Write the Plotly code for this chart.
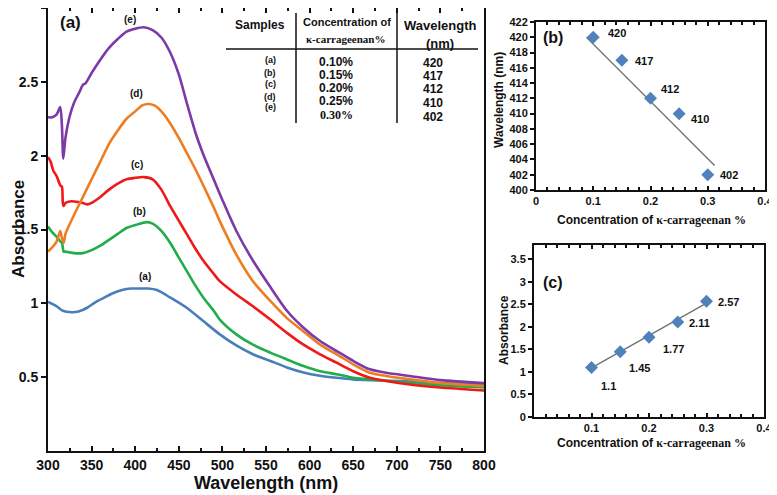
import plotly.graph_objects as go

# ---------------- data ----------------
# Panel (a) spectra (wavelength nm, absorbance)
wl_a = [300, 310, 317, 327, 335, 345, 355, 365, 375, 385, 395, 405, 415, 425, 440, 459, 478, 497, 516, 535, 555, 574, 593, 612, 631, 650, 669, 715, 750, 800]
abs_a = [1.01, 0.98, 0.95, 0.94, 0.945, 0.97, 1.01, 1.04, 1.07, 1.09, 1.10, 1.10, 1.10, 1.09, 1.04, 0.97, 0.88, 0.79, 0.715, 0.655, 0.61, 0.566, 0.532, 0.51, 0.496, 0.485, 0.48, 0.472, 0.46, 0.45]

wl_b = [300, 305, 310, 314, 316, 318, 320, 330, 340, 350, 360, 370, 380, 390, 400, 413, 420, 430, 440, 450, 459, 468, 478, 490, 497, 516, 535, 555, 574, 593, 612, 631, 650, 669, 715, 750, 800]
abs_b = [1.52, 1.48, 1.45, 1.42, 1.41, 1.35, 1.35, 1.34, 1.34, 1.36, 1.39, 1.43, 1.47, 1.51, 1.53, 1.55, 1.54, 1.49, 1.41, 1.31, 1.22, 1.13, 1.04, 0.95, 0.89, 0.79, 0.72, 0.666, 0.62, 0.575, 0.54, 0.52, 0.496, 0.485, 0.46, 0.445, 0.43]

wl_c = [300, 303, 306, 310, 314, 316, 317, 318, 320, 325, 330, 340, 345, 350, 360, 370, 380, 390, 400, 410, 420, 430, 440, 450, 459, 468, 478, 490, 497, 516, 535, 555, 574, 593, 612, 631, 650, 669, 688, 715, 750, 800]
abs_c = [1.99, 1.96, 1.90, 1.86, 1.80, 1.79, 1.68, 1.66, 1.68, 1.69, 1.69, 1.68, 1.67, 1.68, 1.72, 1.77, 1.81, 1.84, 1.85, 1.855, 1.84, 1.77, 1.66, 1.56, 1.47, 1.38, 1.29, 1.20, 1.15, 1.06, 0.98, 0.89, 0.80, 0.72, 0.655, 0.598, 0.54, 0.496, 0.474, 0.45, 0.43, 0.41]

wl_d = [300, 305, 310, 314, 316, 318, 320, 330, 340, 350, 360, 370, 380, 390, 400, 408, 415, 422, 430, 440, 450, 459, 468, 478, 490, 497, 516, 535, 555, 574, 593, 612, 631, 650, 669, 688, 715, 750, 800]
abs_d = [1.35, 1.38, 1.42, 1.49, 1.44, 1.41, 1.47, 1.60, 1.72, 1.84, 1.96, 2.08, 2.17, 2.25, 2.30, 2.34, 2.35, 2.34, 2.30, 2.22, 2.12, 2.02, 1.92, 1.80, 1.65, 1.557, 1.33, 1.15, 1.016, 0.90, 0.81, 0.72, 0.655, 0.587, 0.53, 0.508, 0.485, 0.46, 0.44]

wl_e = [300, 305, 310, 314, 316, 317.5, 320, 325, 330, 336, 340, 343, 350, 360, 370, 380, 390, 400, 410, 420, 430, 440, 450, 460, 470, 478, 490, 500, 516, 535, 555, 574, 593, 612, 631, 650, 669, 688, 715, 750, 800]
abs_e = [2.26, 2.26, 2.28, 2.33, 2.20, 1.98, 2.12, 2.27, 2.36, 2.43, 2.48, 2.49, 2.56, 2.65, 2.73, 2.79, 2.84, 2.86, 2.87, 2.85, 2.80, 2.70, 2.55, 2.34, 2.14, 2.01, 1.84, 1.70, 1.49, 1.29, 1.11, 0.95, 0.835, 0.745, 0.677, 0.61, 0.553, 0.53, 0.508, 0.48, 0.46]

curve_names = ["(a)", "(b)", "(c)", "(d)", "(e)"]
curve_colors = ["#4A7EBB", "#1FAE4B", "#F01818", "#EE7D22", "#7B3AA6"]
label_pos_x = [411, 405, 402, 402, 394]
label_pos_y = [1.18, 1.62, 1.94, 2.42, 2.92]

# Table / panels (b), (c)
conc = [0.10, 0.15, 0.20, 0.25, 0.30]
conc_labels = ["0.10%", "0.15%", "0.20%", "0.25%", "0.30%"]
peak_wl = [420, 417, 412, 410, 402]
peak_abs = [1.1, 1.45, 1.77, 2.11, 2.57]
trend_b_x = [0.088, 0.312]
trend_b_y = [420.0, 403.2]
trend_c_x = [0.10, 0.30]
trend_c_y = [1.09, 2.53]
lab_b_x = [0.141, 0.189, 0.234, 0.286, 0.337]
lab_b_y = [420.6, 416.9, 413.2, 409.3, 402.0]
lab_c_x = [0.13, 0.184, 0.243, 0.287, 0.339]
lab_c_y = [0.69, 1.09, 1.51, 2.09, 2.56]

W, H = 777, 495
OFF = 8  # page body margin
def PX(x): return max(0.0, min(1.0, (x - OFF) / W))
def PY(y): return max(0.0, min(1.0, 1 - (y - OFF) / H))

FONT = "Arial, Liberation Sans, sans-serif"
SERIF = "Liberation Serif"
BLACK = "#111111"

fig = go.Figure()

for wl, ab, col in zip([wl_a, wl_b, wl_c, wl_d, wl_e], [abs_a, abs_b, abs_c, abs_d, abs_e], curve_colors):
    fig.add_trace(go.Scatter(x=wl, y=ab, mode="lines", line=dict(color=col, width=2.6, shape="spline", smoothing=0.7),
                             xaxis="x", yaxis="y", showlegend=False))

fig.add_trace(go.Scatter(x=trend_b_x, y=trend_b_y, mode="lines", line=dict(color="#707070", width=1.3),
                         xaxis="x2", yaxis="y2", showlegend=False))
fig.add_trace(go.Scatter(x=conc, y=peak_wl, mode="markers", marker=dict(symbol="diamond", size=10, color="#4F81BD"),
                         xaxis="x2", yaxis="y2", showlegend=False))
fig.add_trace(go.Scatter(x=trend_c_x, y=trend_c_y, mode="lines", line=dict(color="#707070", width=1.3),
                         xaxis="x3", yaxis="y3", showlegend=False))
fig.add_trace(go.Scatter(x=conc, y=peak_abs, mode="markers", marker=dict(symbol="diamond", size=10, color="#4F81BD"),
                         xaxis="x3", yaxis="y3", showlegend=False))

axbase = dict(showgrid=False, zeroline=False, showline=True, linecolor=BLACK, linewidth=2,
              tickcolor=BLACK, tickwidth=1.5, automargin=False)

fig.update_layout(
    width=W, height=H, margin=dict(l=0, r=0, t=0, b=0, autoexpand=False),
    paper_bgcolor="white", plot_bgcolor="white",
    font=dict(family=FONT, color=BLACK),
    xaxis=dict(**axbase, domain=[PX(48), PX(484)], range=[300, 800], tickvals=list(range(300, 801, 50)),
               ticks="inside", ticklen=5, mirror="ticks", anchor="y",
               minor=dict(dtick=25, ticks="inside", ticklen=3, tickcolor=BLACK),
               tickfont=dict(size=14, family=FONT, weight="bold")),
    yaxis=dict(**axbase, domain=[PY(451), PY(7)], range=[0, 3], tickvals=[0.5, 1, 1.5, 2, 2.5, 3],
               ticktext=["0.5", "1", "1.5", "2", "2.5", "3"],
               ticks="outside", ticklen=5, mirror=True, anchor="x",
               tickfont=dict(size=14, family=FONT, weight="bold")),
    xaxis2=dict(**axbase, domain=[PX(536), PX(765)], range=[0, 0.4], tickvals=[0, 0.1, 0.2, 0.3, 0.4],
                ticktext=["0", "0.1", "0.2", "0.3", "0.4"], ticks="inside", ticklen=4, mirror="ticks", anchor="y2",
                minor=dict(dtick=0.02, ticks="inside", ticklen=3, tickcolor=BLACK),
                tickfont=dict(size=11, family=FONT, weight="bold")),
    yaxis2=dict(**axbase, domain=[PY(190), PY(22)], range=[400, 422], tickvals=list(range(400, 423, 2)),
                ticks="outside", ticklen=4, mirror=True, anchor="x2",
                tickfont=dict(size=11, family=FONT, weight="bold")),
    xaxis3=dict(**axbase, domain=[PX(534), PX(764)], range=[0, 0.4], tickvals=[0.1, 0.2, 0.3, 0.4],
                ticktext=["0.1", "0.2", "0.3", "0.4"], ticks="inside", ticklen=4, mirror="ticks", anchor="y3",
                minor=dict(dtick=0.02, ticks="inside", ticklen=3, tickcolor=BLACK),
                tickfont=dict(size=11, family=FONT, weight="bold")),
    yaxis3=dict(**axbase, domain=[PY(417), PY(245)], range=[0, 3.82], tickvals=[0, 0.5, 1, 1.5, 2, 2.5, 3, 3.5],
                ticktext=["0", "0.5", "1", "1.5", "2", "2.5", "3", "3.5"],
                ticks="outside", ticklen=4, mirror=True, anchor="x3",
                tickfont=dict(size=11, family=FONT, weight="bold")),
)

ann = []
def A(text, x, y, size, xref="paper", yref="paper", bold=True, family=FONT, angle=0, xanchor="center"):
    ann.append(dict(text=("<b>%s</b>" % text) if bold else text, x=x, y=y, xref=xref, yref=yref,
                    showarrow=False, font=dict(size=size, family=family, color=BLACK),
                    textangle=angle, xanchor=xanchor, yanchor="middle"))

# panel labels
A("(a)", PX(70), PY(23), 17)
A("(b)", PX(553), PY(38), 16)
A("(c)", PX(553), PY(282), 16)

# axis titles
A("Absorbance", PX(18), PY(229), 17, angle=-90)
A("Wavelength (nm)", PX(266), PY(483), 18)
A("Wavelength (nm)", PX(499), PY(100), 12, angle=-90)
A("Concentration of <span style=\"font-family:Liberation Serif\">κ-carrageenan %</span>", PX(651), PY(220), 12)
A("Absorbance", PX(504), PY(330), 12, angle=-90)
A("Concentration of <span style=\"font-family:Liberation Serif\">κ-carrageenan %</span>", PX(651), PY(443), 12)

# curve labels
for n, lx, ly in zip(curve_names, label_pos_x, label_pos_y):
    A(n, lx, ly, 10, xref="x", yref="y")

# point labels
for v, lx, ly in zip(peak_wl, lab_b_x, lab_b_y):
    A(str(v), lx, ly, 11, xref="x2", yref="y2")
for v, lx, ly in zip(peak_abs, lab_c_x, lab_c_y):
    A(str(v), lx, ly, 11, xref="x3", yref="y3")

# table
A("Samples", PX(260), PY(25), 12)
A("Concentration of", PX(347), PY(22), 11)
A("κ-carrageenan%", PX(345), PY(39), 11, family=SERIF)
A("Wavelength", PX(440), PY(25), 13)
A("(nm)", PX(440), PY(43), 13)
row_s = [60, 73, 84, 97, 107]
row_c = [62, 75, 88, 101, 115]
row_w = [63, 76, 89, 103, 117]
for i in range(5):
    A(curve_names[i], PX(270), PY(row_s[i]), 9)
    A(conc_labels[i], PX(336), PY(row_c[i]), 12, family=(SERIF if i == 4 else FONT))
    A(str(peak_wl[i]), PX(433), PY(row_w[i]), 12)

fig.update_layout(annotations=ann)

shapes = [
    dict(type="line", xref="paper", yref="paper", x0=PX(226), x1=PX(478), y0=PY(49), y1=PY(49), line=dict(color=BLACK, width=1.5)),
    dict(type="line", xref="paper", yref="paper", x0=PX(296), x1=PX(296), y0=PY(13), y1=PY(123), line=dict(color=BLACK, width=1.5)),
    dict(type="line", xref="paper", yref="paper", x0=PX(397), x1=PX(397), y0=PY(12), y1=PY(123), line=dict(color=BLACK, width=1.5)),
]
fig.update_layout(shapes=shapes)

fig.write_html("out.html")
